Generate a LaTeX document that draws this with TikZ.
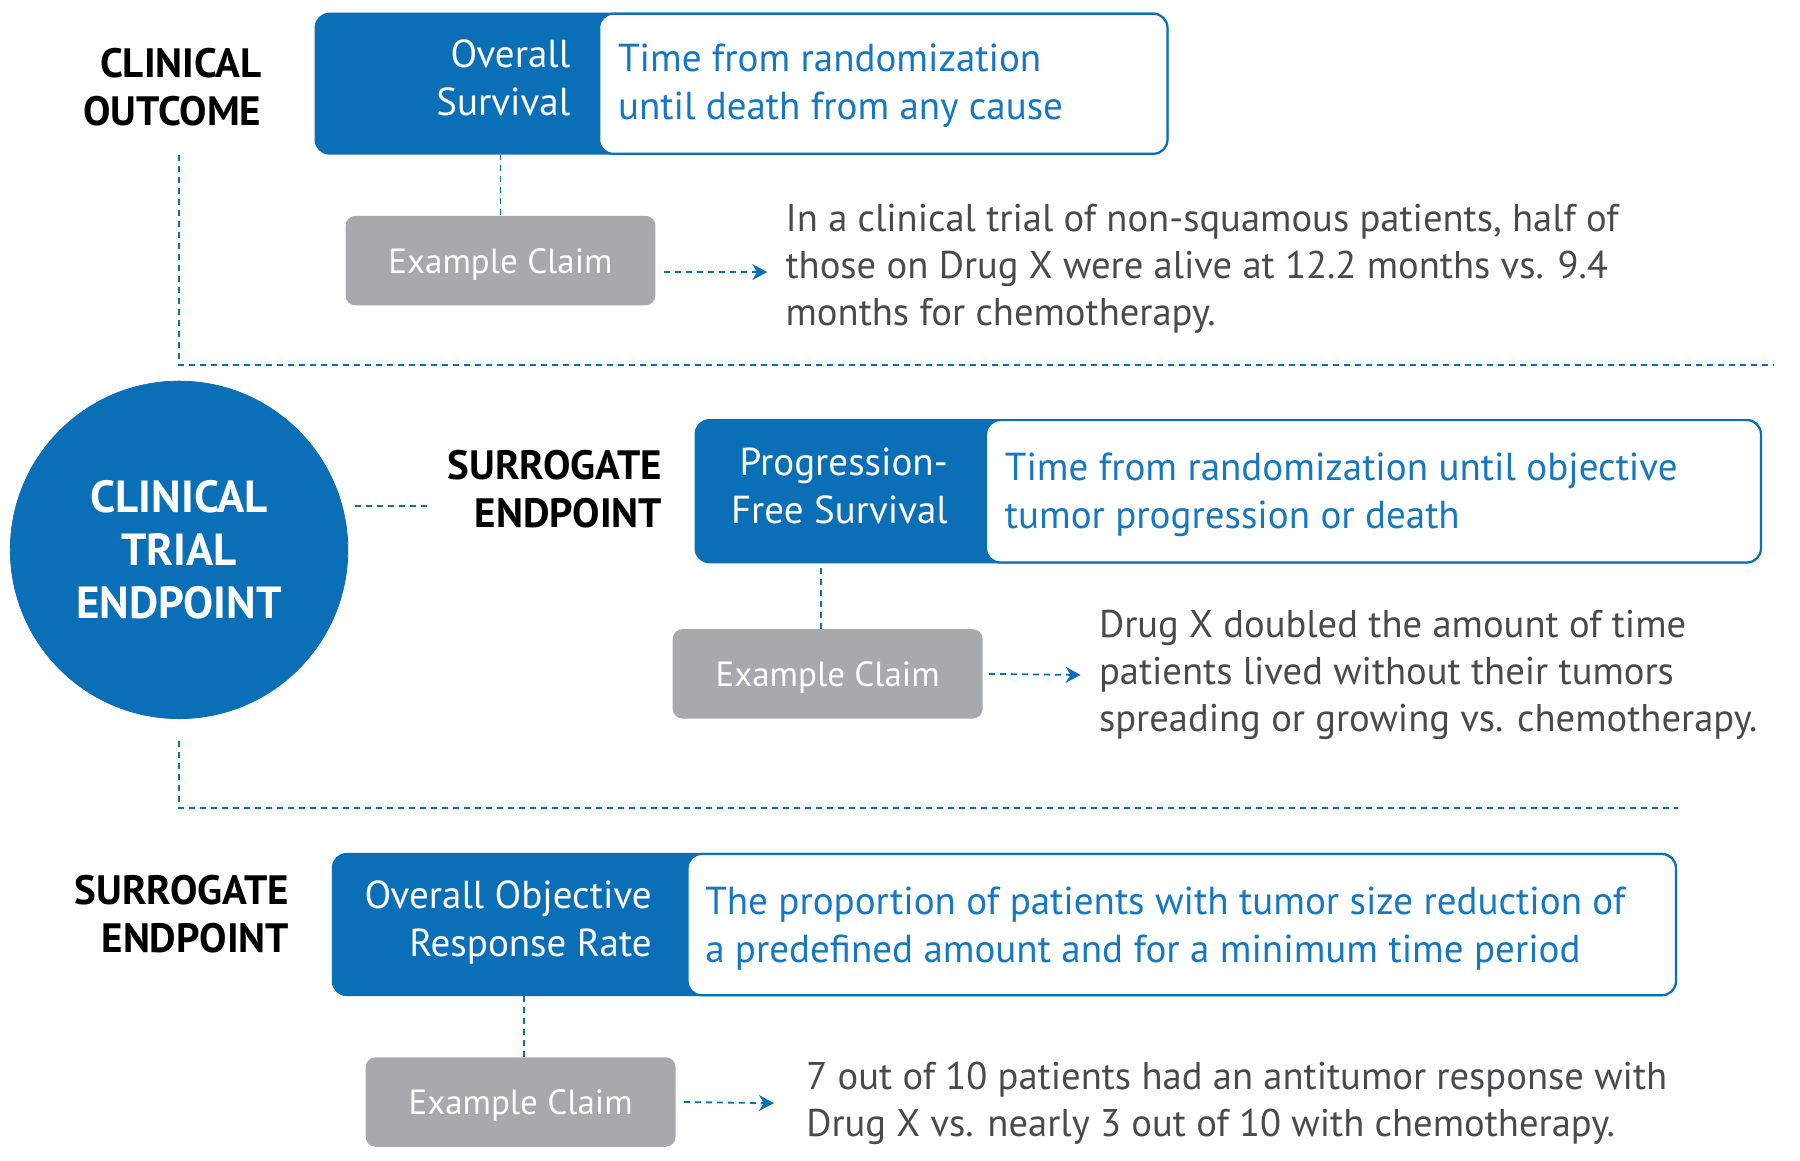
\documentclass[tikz,border=0pt]{standalone}
\usepackage{fontspec}
\setmainfont{PT Sans}
\usetikzlibrary{arrows.meta}
\definecolor{eblue}{HTML}{0B6FB8}
\definecolor{tblue}{HTML}{1677C2}
\definecolor{cgray}{HTML}{A7A9AC}
\definecolor{bodygray}{HTML}{4A4A4C}
\def\U{0.574pt}
\tikzset{
  outer/.style={fill=eblue, draw=eblue, line width=1pt, rounded corners=7pt, inner sep=0pt, anchor=north west},
  inner/.style={fill=white, draw=eblue, line width=1.1pt, rounded corners=7pt, inner sep=0pt, anchor=north west},
  title/.style={text=white, inner sep=0pt, font=\fontsize{19.5}{24}\selectfont},
  desc/.style={text=tblue, inner sep=0pt, anchor=west, align=left, font=\fontsize{19.5}{24}\selectfont},
  head/.style={text=black, inner sep=0pt, anchor=east, align=right, font=\fontsize{20.5}{24}\selectfont\bfseries},
  claim/.style={fill=cgray, draw=none, rounded corners=5pt, text=white, inner sep=0pt, text depth=0pt, minimum width=270*\U, minimum height=78*\U, font=\fontsize{17.5}{20}\selectfont},
  body/.style={text=bodygray, inner sep=0pt, anchor=west, align=left, font=\fontsize{19.3}{23.6}\selectfont},
  dline/.style={draw=eblue, line width=0.9pt, dash pattern=on 3pt off 2.5pt},
  darrow/.style={dline, -{Stealth[length=7.5pt,width=8pt,inset=2.5pt]}},
}
\begin{document}
\begin{tikzpicture}[x=0.574pt,y=-0.574pt]
\useasboundingbox (0,0) rectangle (1568,1011);

% ---------- top row ----------
\node[head] (lab1) at (228,76) {CLINICAL\\OUTCOME};
\node[outer, minimum width=742*\U, minimum height=122*\U] (b1) at (274,11) {};
\node[inner, minimum width=495*\U, minimum height=122*\U] (w1) at (521,11) {};
\node[title, anchor=east, align=right] (t1) at (497,68) {Overall\\Survival};
\node[desc] (d1) at (538,75) {Time from randomization\\until death from any cause};
\node[claim] (c1) at (436,227) {Example Claim};
\node[body] (x1) at (684,234) {In a clinical trial of non-squamous patients, half of\\those on Drug X were alive at 12.2 months vs. 9.4\\months for chemotherapy.};
\draw[dline] (c1.north) -- (c1.north |- b1.south);
\draw[darrow] ([xshift=4pt]c1.east |- 0,237) -- ([xshift=-9pt]x1.west |- 0,237);

% ---------- circle ----------
\node[circle, fill=eblue, draw=eblue, minimum size=294*\U, inner sep=0pt, text=white, align=center,
      font=\fontsize{22.5}{26.4}\selectfont\bfseries] (circ) at (156,479) {CLINICAL\\TRIAL\\ENDPOINT};
\coordinate (e1) at (1545,318);
\coordinate (e3) at (1462,704);
\draw[dline] ([yshift=-14pt]circ.center |- lab1.south) |- (e1);
\draw[dline] ([yshift=-11pt]circ.south) |- (e3);

% ---------- middle row ----------
\node[head] (lab2) at (577,426) {SURROGATE\\ENDPOINT};
\coordinate (c2l) at (372,441);
\draw[dline] (c2l) -- ([xshift=2pt]c2l -| circ.east);
\node[outer, minimum width=928*\U, minimum height=124*\U] (b2) at (605,365) {};
\node[inner, minimum width=675*\U, minimum height=124*\U] (w2) at (858,365) {};
\node[title, anchor=east, align=right] (t2) at (826,423) {Progression-\\Free Survival};
\node[desc] (d2) at (875,431) {Time from randomization until objective\\tumor progression or death};
\node[claim] (c2) at (721,587) {Example Claim};
\node[body] (x2) at (957,588) {Drug X doubled the amount of time\\patients lived without their tumors\\spreading or growing vs. chemotherapy.};
\draw[dline] ([xshift=-3.5pt]c2.north) -- ([xshift=-3.5pt]c2.north |- b2.south);
\draw[darrow] ([xshift=3pt]c2.east) -- ([xshift=-9pt]x2.west);

% ---------- bottom row ----------
\node[head] (lab3) at (252,796) {SURROGATE\\ENDPOINT};
\node[outer, minimum width=1170*\U, minimum height=123*\U] (b3) at (289,743) {};
\node[inner, minimum width=861*\U, minimum height=123*\U] (w3) at (598,743) {};
\node[title, anchor=east, align=right] (t3) at (568,804) {Overall Objective\\Response Rate};
\node[desc] (d3) at (614,809) {The proportion of patients with tumor size reduction of\\a predefined amount and for a minimum time period};
\node[claim] (c3) at (453.5,960) {Example Claim};
\node[body] (x3) at (702,961) {7 out of 10 patients had an antitumor response with\\Drug X vs. nearly 3 out of 10 with chemotherapy.};
\draw[dline] ([xshift=1.5pt]c3.north) -- ([xshift=1.5pt]c3.north |- b3.south);
\draw[darrow] ([xshift=4pt]c3.east) -- ([xshift=-16pt]x3.west);
\end{tikzpicture}
\end{document}
